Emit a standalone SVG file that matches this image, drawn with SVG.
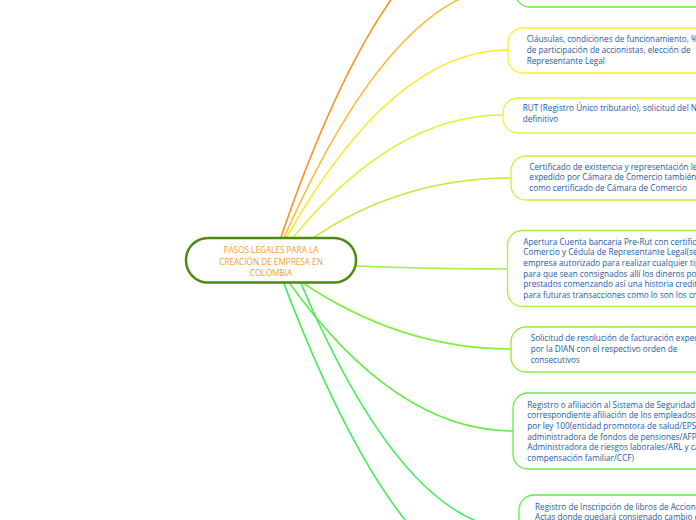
<svg xmlns="http://www.w3.org/2000/svg" width="696" height="520" viewBox="0 0 696 520">
<style>
.c{fill:none;stroke-width:1.6;stroke-linecap:round}
.n{fill:#fff;stroke-width:1.3}
.t{font-family:"Open Sans","Noto Sans",sans-serif;font-size:8.2px;fill:#1e5ba3}
.m{font-family:"Open Sans","Noto Sans",sans-serif;font-size:8.2px;fill:#f39c34;text-anchor:middle}
</style>
<rect width="696" height="520" fill="#fff"/>
<g id="connectors">
<path class="c" d="M280,240 Q391,-85 512,-85" stroke="#f7941d" stroke-width="2"/>
<path class="c" d="M283,240 Q395,-15 515,-15" stroke="#fbbd3b"/>
<path class="c" d="M285,240 Q392,50 508,50" stroke="#fbe92c"/>
<path class="c" d="M291,240 Q393,115 503,115" stroke="#def230"/>
<path class="c" d="M310,240 Q400,178 511,178" stroke="#b9ef34"/>
<path class="c" d="M355,266 Q430,269 507,269" stroke="#9ff03a"/>
<path class="c" d="M300,281 Q400,349 511,349" stroke="#82ee3c"/>
<path class="c" d="M288,281 Q395,431 513,431" stroke="#60ec44"/>
<path class="c" d="M283,281 Q400,590 515,590" stroke="#3cee55"/>
<path class="c" d="M300,281 Q405,530 519,530" stroke="#40ee5c"/>
</g>
<g id="center">
<rect x="186" y="238" width="170" height="44.5" rx="22" fill="#fff" stroke="#4e8a12" stroke-width="2.5"/>
<text class="m" x="271" y="253.2">PASOS LEGALES PARA LA</text>
<text class="m" x="271" y="264.6">CREACIÓN DE EMPRESA EN</text>
<text class="m" x="271" y="275.8">COLOMBIA</text>
</g>
<g id="node-top">
<rect class="n" x="515" y="-40" width="260" height="47" rx="15" stroke="#5fea3e"/>
</g>
<g id="node-clausulas">
<rect class="n" x="508" y="28" width="260" height="45" rx="15" stroke="#f8ee2c"/>
<text class="t" x="526.7" y="42.3">Cláusulas, condiciones de funcionamiento, %</text>
<text class="t" x="526.7" y="53">de participación de accionistas, elección de</text>
<text class="t" x="526.7" y="63.7">Representante Legal</text>
</g>
<g id="node-rut">
<rect class="n" x="503" y="98" width="260" height="35" rx="15" stroke="#e3f43a"/>
<text class="t" x="522.7" y="111.3">RUT (Registro Único tributario), solicitud del N</text>
<text class="t" x="522.7" y="122.3">definitivo</text>
</g>
<g id="node-certificado">
<rect class="n" x="511" y="156" width="260" height="44" rx="15" stroke="#c8f23c"/>
<text class="t" x="529.3" y="169.7">Certificado de existencia y representación le</text>
<text class="t" x="529.3" y="180.3">expedido por Cámara de Comercio también</text>
<text class="t" x="529.3" y="191.3">como certificado de Cámara de Comercio</text>
</g>
<g id="node-apertura">
<rect class="n" x="507.5" y="230.5" width="260" height="76" rx="15" stroke="#a8f03e"/>
<text class="t" x="523.3" y="244.6">Apertura Cuenta bancaria Pre-Rut con certifica</text>
<text class="t" x="523.3" y="255.3">Comercio y Cédula de Representante Legal(se</text>
<text class="t" x="523.3" y="266">empresa autorizado para realizar cualquier tip</text>
<text class="t" x="523.3" y="276.7">para que sean consignados allí los dineros po</text>
<text class="t" x="523.3" y="287.4">prestados comenzando así una historia credit</text>
<text class="t" x="523.3" y="298.1">para futuras transacciones como lo son los cr</text>
</g>
<g id="node-solicitud">
<rect class="n" x="511" y="327" width="260" height="45" rx="15" stroke="#8aee3e"/>
<text class="t" x="530.7" y="341.3">Solicitud de resolución de facturación exped</text>
<text class="t" x="530.7" y="352.2">por la DIAN con el respectivo orden de</text>
<text class="t" x="530.7" y="363.1">consecutivos</text>
</g>
<g id="node-registro">
<rect class="n" x="513" y="393" width="260" height="76" rx="15" stroke="#6cec42"/>
<text class="t" x="527.3" y="407.5">Registro o afiliación al Sistema de Seguridad</text>
<text class="t" x="527.3" y="418.2">correspondiente afiliación de los empleados</text>
<text class="t" x="527.3" y="428.9">por ley 100(entidad promotora de salud/EPS</text>
<text class="t" x="527.3" y="439.6">administradora de fondos de pensiones/AFP</text>
<text class="t" x="527.3" y="450.3">Administradora de riesgos laborales/ARL y ca</text>
<text class="t" x="527.3" y="461">compensación familiar/CCF)</text>
</g>
<g id="node-libros">
<rect class="n" x="519" y="495" width="260" height="76" rx="15" stroke="#5eec46"/>
<text class="t" x="535" y="509.7">Registro de Inscripción de libros de Accioni</text>
<text class="t" x="535" y="520.4">Actas donde quedará consignado cambio d</text>
</g>
</svg>
